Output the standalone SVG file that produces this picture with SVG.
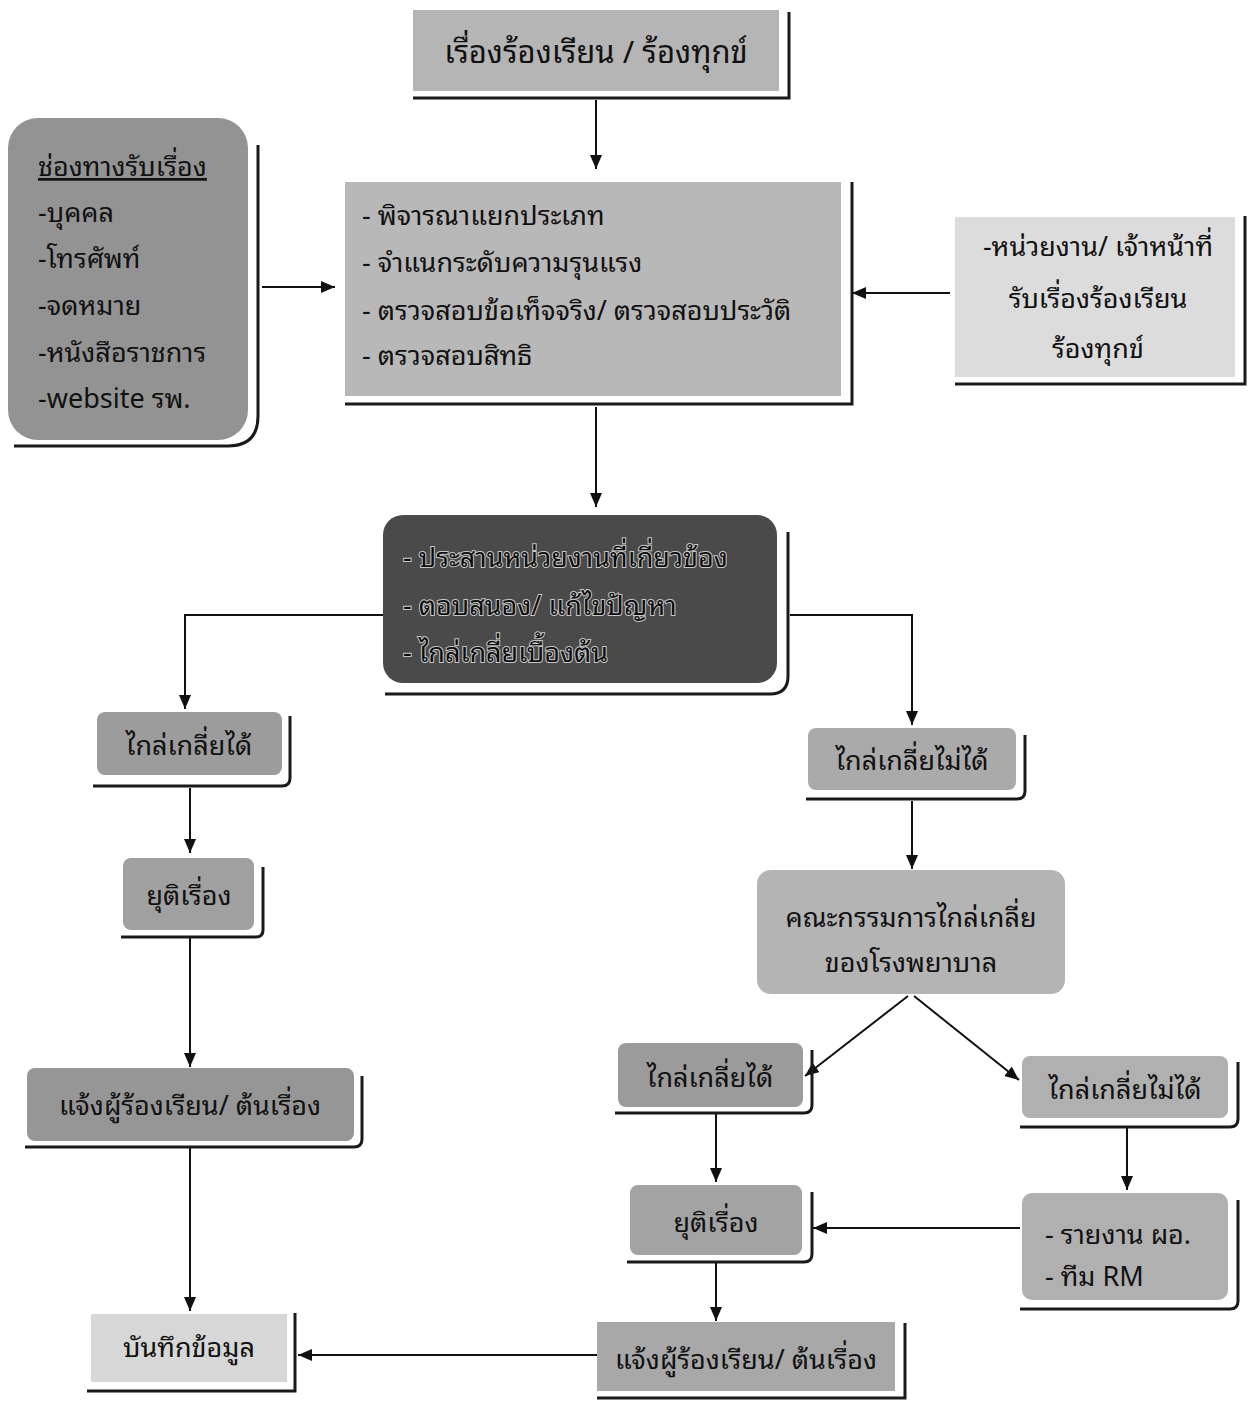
<svg xmlns="http://www.w3.org/2000/svg" width="1252" height="1405" viewBox="0 0 1252 1405">
<style>
text{font-family:"Noto Sans Thai Looped","Noto Sans Thai","Noto Sans","DejaVu Sans",sans-serif;fill:#111;font-size:27px}
.c{text-anchor:middle}
.big{font-size:31px}
.sh{fill:none;stroke:#1a1a1a;stroke-width:3}
.ln{fill:none;stroke:#111;stroke-width:2}
.dk{fill:#0d0d0d;stroke:#c8c8c8;stroke-width:2;paint-order:stroke}
</style>
<defs>
<marker id="ah" viewBox="0 0 14 12" refX="14" refY="6" markerWidth="14" markerHeight="12" markerUnits="userSpaceOnUse" orient="auto">
<path d="M0,0 L14,6 L0,12 Z" fill="#111"/>
</marker>
</defs>
<rect width="1252" height="1405" fill="#ffffff"/>

<g id="connectors">
<path class="ln" d="M596,100 V169" marker-end="url(#ah)"/>
<path class="ln" d="M262,287 H335" marker-end="url(#ah)"/>
<path class="ln" d="M950,293 H852" marker-end="url(#ah)"/>
<path class="ln" d="M596,407 V507" marker-end="url(#ah)"/>
<path class="ln" d="M383,615 H185 V709" marker-end="url(#ah)"/>
<path class="ln" d="M790,615 H912 V725" marker-end="url(#ah)"/>
<path class="ln" d="M190,788 V853" marker-end="url(#ah)"/>
<path class="ln" d="M190,938 V1067" marker-end="url(#ah)"/>
<path class="ln" d="M190,1148 V1311" marker-end="url(#ah)"/>
<path class="ln" d="M912,801 V869" marker-end="url(#ah)"/>
<path class="ln" d="M908,996 L805,1076" marker-end="url(#ah)"/>
<path class="ln" d="M914,996 L1019,1080" marker-end="url(#ah)"/>
<path class="ln" d="M716,1114 V1182" marker-end="url(#ah)"/>
<path class="ln" d="M1127,1128 V1190" marker-end="url(#ah)"/>
<path class="ln" d="M1020,1228 H813" marker-end="url(#ah)"/>
<path class="ln" d="M716,1263 V1321" marker-end="url(#ah)"/>
<path class="ln" d="M597,1355 H298" marker-end="url(#ah)"/>
</g>

<g id="n-complaint">
<rect x="413" y="10" width="366" height="81" fill="#b5b5b5"/>
<path class="sh" d="M413,98 H789 V12"/>
<text class="c big" x="596" y="63">เรื่องร้องเรียน / ร้องทุกข์</text>
</g>

<g id="n-channels">
<rect x="8" y="118" width="240" height="322" rx="30" fill="#939393"/>
<path class="sh" d="M14,446 H228 Q258,446 258,416 V145"/>
<text x="38" y="176" text-decoration="underline">ช่องทางรับเรื่อง</text>
<text x="38" y="222">-บุคคล</text>
<text x="38" y="268">-โทรศัพท์</text>
<text x="38" y="315">-จดหมาย</text>
<text x="38" y="362">-หนังสือราชการ</text>
<text x="38" y="408">-website รพ.</text>
</g>

<g id="n-screen">
<rect x="345" y="182" width="496" height="214" fill="#b8b8b8"/>
<path class="sh" d="M345,404 H852 V182"/>
<text x="362" y="225">- พิจารณาแยกประเภท</text>
<text x="362" y="272">- จำแนกระดับความรุนแรง</text>
<text x="362" y="320">- ตรวจสอบข้อเท็จจริง/ ตรวจสอบประวัติ</text>
<text x="362" y="365">- ตรวจสอบสิทธิ</text>
</g>

<g id="n-officer">
<rect x="955" y="217" width="280" height="160" fill="#dcdcdc"/>
<path class="sh" d="M955,384 H1245 V216"/>
<text class="c" x="1098" y="256">-หน่วยงาน/ เจ้าหน้าที่</text>
<text class="c" x="1098" y="308">รับเรื่องร้องเรียน</text>
<text class="c" x="1098" y="358">ร้องทุกข์</text>
</g>

<g id="n-coord">
<rect x="383" y="515" width="394" height="168" rx="20" fill="#4a4a4a"/>
<path class="sh" d="M385,694 H770 Q788,694 788,676 V532"/>
<text class="dk" x="403" y="567">- ประสานหน่วยงานที่เกี่ยวข้อง</text>
<text class="dk" x="403" y="615">- ตอบสนอง/ แก้ไขปัญหา</text>
<text class="dk" x="403" y="662">- ไกล่เกลี่ยเบื้องต้น</text>
</g>

<g id="n-ok1">
<rect x="97" y="712" width="185" height="63" rx="8" fill="#9c9c9c"/>
<path class="sh" d="M93,786 H282 Q290,786 290,778 V716"/>
<text class="c" x="189" y="755">ไกล่เกลี่ยได้</text>
</g>

<g id="n-end1">
<rect x="123" y="858" width="131" height="72" rx="8" fill="#a0a0a0"/>
<path class="sh" d="M121,937 H256 Q263,937 263,930 V867"/>
<text class="c" x="189" y="905">ยุติเรื่อง</text>
</g>

<g id="n-notify1">
<rect x="27" y="1068" width="327" height="73" rx="8" fill="#969696"/>
<path class="sh" d="M25,1147 H354 Q362,1147 362,1139 V1076"/>
<text class="c" x="190" y="1115">แจ้งผู้ร้องเรียน/ ต้นเรื่อง</text>
</g>

<g id="n-record">
<rect x="91" y="1314" width="196" height="68" fill="#d7d7d7"/>
<path class="sh" d="M87,1391 H295 V1313"/>
<text class="c" x="189" y="1357">บันทึกข้อมูล</text>
</g>

<g id="n-fail1">
<rect x="808" y="728" width="208" height="62" rx="8" fill="#aaaaaa"/>
<path class="sh" d="M806,799 H1017 Q1025,799 1025,791 V735"/>
<text class="c" x="912" y="770">ไกล่เกลี่ยไม่ได้</text>
</g>

<g id="n-committee">
<rect x="757" y="870" width="308" height="124" rx="14" fill="#b4b4b4"/>
<text class="c" x="911" y="927">คณะกรรมการไกล่เกลี่ย</text>
<text class="c" x="911" y="972">ของโรงพยาบาล</text>
</g>

<g id="n-ok2">
<rect x="618" y="1043" width="185" height="64" rx="8" fill="#9b9b9b"/>
<path class="sh" d="M615,1113 H804 Q812,1113 812,1105 V1050"/>
<text class="c" x="710" y="1087">ไกล่เกลี่ยได้</text>
</g>

<g id="n-fail2">
<rect x="1022" y="1056" width="206" height="62" rx="8" fill="#b0b0b0"/>
<path class="sh" d="M1020,1127 H1230 Q1238,1127 1238,1119 V1062"/>
<text class="c" x="1125" y="1099">ไกล่เกลี่ยไม่ได้</text>
</g>

<g id="n-end2">
<rect x="630" y="1185" width="172" height="70" rx="8" fill="#a3a3a3"/>
<path class="sh" d="M627,1262 H804 Q812,1262 812,1254 V1192"/>
<text class="c" x="716" y="1232">ยุติเรื่อง</text>
</g>

<g id="n-report">
<rect x="1022" y="1193" width="206" height="107" rx="10" fill="#b0b0b0"/>
<path class="sh" d="M1020,1309 H1230 Q1238,1309 1238,1301 V1200"/>
<text x="1045" y="1244">- รายงาน ผอ.</text>
<text x="1045" y="1286">- ทีม RM</text>
</g>

<g id="n-notify2">
<rect x="597" y="1322" width="298" height="69" fill="#a8a8a8"/>
<path class="sh" d="M597,1398 H905 V1323"/>
<text class="c" x="746" y="1369">แจ้งผู้ร้องเรียน/ ต้นเรื่อง</text>
</g>
</svg>
